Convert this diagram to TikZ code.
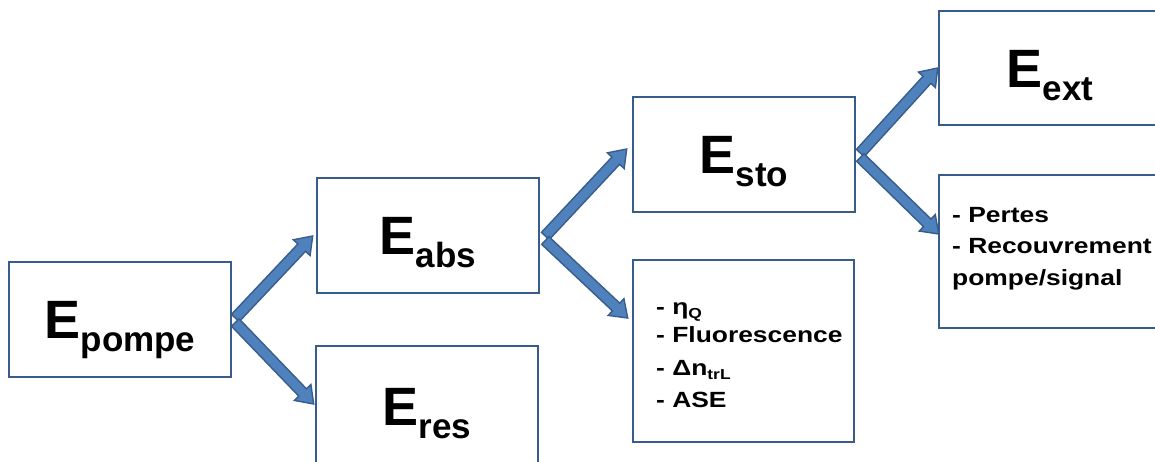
\documentclass[tikz,border=0pt]{standalone}
\usepackage{fontspec}
\setmainfont{Liberation Sans}
\newfontfamily\listfont{Liberation Sans}[FakeStretch=1.2]
\usetikzlibrary{calc}
\definecolor{boxline}{RGB}{56,93,138}
\definecolor{arrfill}{RGB}{79,129,189}
\definecolor{arrline}{RGB}{56,93,138}
\newcommand\bigE[1]{\fontsize{54}{54}\selectfont\bfseries E\raisebox{-13pt}{\fontsize{35}{35}\selectfont #1}}
\newcommand\smsub[1]{\raisebox{-4pt}{\fontsize{14.5}{14.5}\selectfont #1}}
\newcommand\blkarrow[2]{%
  \path ($(#2)!16pt!(#1)$) coordinate (bh);
  \draw[blockarrow] ($(#1)!5.3pt!90:(#2)$) -- ($(bh)!5.3pt!90:(#2)$) -- ($(bh)!11.5pt!90:(#2)$) -- (#2)
    -- ($(bh)!11.5pt!-90:(#2)$) -- ($(bh)!5.3pt!-90:(#2)$) -- ($(#1)!5.3pt!-90:(#2)$) -- cycle;}
\tikzset{
  ebox/.style={draw=boxline, line width=2.6pt, fill=white, inner sep=0pt, minimum width=222pt},
  etext/.style={anchor=base, inner sep=0pt},
  ltext/.style={anchor=base west, inner sep=0pt, font=\listfont\fontsize{22}{22}\selectfont\bfseries},
  blockarrow/.style={fill=arrfill, draw=arrline, line width=1.4pt, line join=miter},
}
\begin{document}
\begin{tikzpicture}[x=1pt, y=-1pt]
\useasboundingbox (0,0) rectangle (1155,461);
% boxes
\node[ebox, minimum height=115pt] (pompe) at (120,319.5) {};
\node[ebox, minimum height=115pt] (abs) at (428,235.5) {};
\node[ebox, minimum height=118pt] (res) at (427,405) {};
\node[ebox, minimum height=115pt] (sto) at (744,154.5) {};
\node[ebox, minimum height=182pt, minimum width=221pt] (list) at (743.5,351) {};
\node[ebox, minimum height=114pt] (ext) at (1050,68) {};
\node[ebox, minimum height=153pt] (pertes) at (1050,251.5) {};
% main labels
\node[etext] (tpompe) at ($(pompe.center)+(0,19)$) {\bigE{pompe}};
\node[etext] (tabs) at ($(abs.center)+(0,19)$) {\bigE{abs}};
\node[etext] (tres) at ($(res.center)+(0,20)$) {\bigE{res}};
\node[etext] (tsto) at ($(sto.center)+(0,19)$) {\bigE{sto}};
\node[etext] (text) at ($(ext.center)+(0,19)$) {\bigE{ext}};
% list texts
\node[ltext] (l1) at (656,314) {- η\smsub{Q}};
\node[ltext] (l2) at (656,342) {- Fluorescence};
\node[ltext] (l3) at (656,375) {- Δn\smsub{trL}};
\node[ltext] (l4) at (656,407) {- ASE};
\node[ltext] (p1) at (952,222) {- Pertes};
\node[ltext] (p2) at (952,253) {- Recouvrement};
\node[ltext] (p3) at (952,285) {pompe/signal};
% arrow endpoints
\coordinate (s1u) at ($(pompe.east)+(3,-1.5)$);
\coordinate (s1d) at ($(pompe.east)+(3,3)$);
\coordinate (t1u) at ($(abs.west)+(-3,0.5)$);
\coordinate (t1d) at ($(res.west)+(-1,-1)$);
\coordinate (s2u) at ($(abs.east)+(5,0.5)$);
\coordinate (s2d) at ($(abs.east)+(5,5)$);
\coordinate (t2u) at ($(sto.west)+(-5,-5.5)$);
\coordinate (t2d) at ($(list.west)+(-4,-33)$);
\coordinate (s3u) at ($(sto.east)+(4,-1.5)$);
\coordinate (s3d) at ($(sto.east)+(4,3)$);
\coordinate (t3u) at ($(ext.west)+(0,0)$);
\coordinate (t3d) at ($(pertes.west)+(1,-17.5)$);
\blkarrow{s1u}{t1u}
\blkarrow{s1d}{t1d}
\blkarrow{s2u}{t2u}
\blkarrow{s2d}{t2d}
\blkarrow{s3u}{t3u}
\blkarrow{s3d}{t3d}
\end{tikzpicture}
\end{document}
